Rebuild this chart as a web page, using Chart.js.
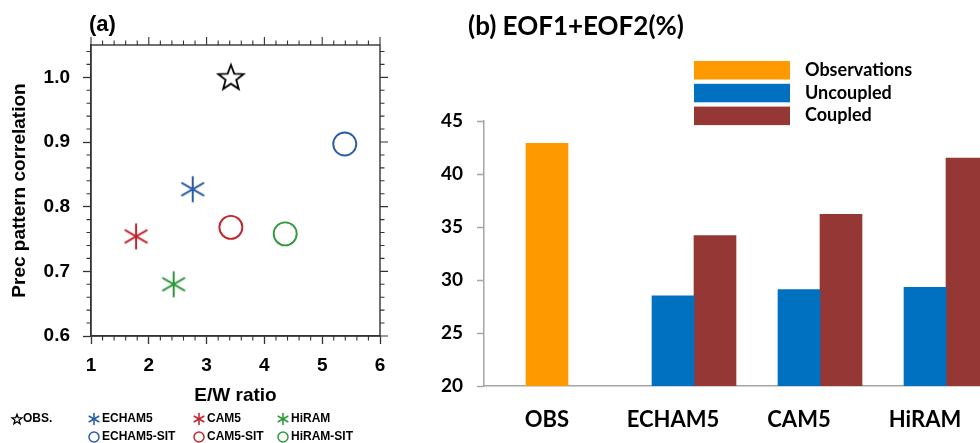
<!DOCTYPE html>
<html>
<head>
<title>E/W ratio vs pattern correlation, EOF1+EOF2</title>
<script src="https://cdn.jsdelivr.net/npm/chart.js"></script>
<style>
  body { margin: 0; background: #fff; overflow: hidden; }
  #wrap { position: relative; width: 980px; height: 443px; overflow: hidden; }
  #panelA { position: absolute; left: 0; top: 0; }
  #panelB { position: absolute; left: 420px; top: 0; }
</style>
</head>
<body>
<div id="wrap">
  <canvas id="panelA" width="415" height="443"></canvas>
  <canvas id="panelB" width="600" height="443"></canvas>
</div>
<script>
// ---- panel (a) data ----
const modelNames = ['OBS.', 'ECHAM5', 'CAM5', 'HiRAM', 'ECHAM5-SIT', 'CAM5-SIT', 'HiRAM-SIT'];
const ewRatio = [3.42, 2.76, 1.78, 2.43, 5.39, 3.42, 4.36];
const patternCorr = [1.0, 0.827, 0.754, 0.680, 0.897, 0.768, 0.758];
const xTicksA = [1, 2, 3, 4, 5, 6];
const yTicksA = [0.6, 0.7, 0.8, 0.9, 1.0];

// ---- panel (b) data ----
const categories = ['OBS', 'ECHAM5', 'CAM5', 'HiRAM'];
const observed = [42.9, null, null, null];
const uncoupled = [null, 28.5, 29.1, 29.3];
const coupled = [null, 34.2, 36.2, 41.5];
const yTicksB = [20, 25, 30, 35, 40, 45];

// styles
const markerKind = ['star', 'asterisk', 'asterisk', 'asterisk', 'circle', 'circle', 'circle'];
const markerColor = ['#000000', '#2a5ca8', '#c1272d', '#2f9a3c', '#2a5ca8', '#c1272d', '#2f9a3c'];
const helv = '"Liberation Sans", Arial, sans-serif';
const cal = 'Lato, "Open Sans", sans-serif';
const frameColor = '#333333';
const axisGray = '#a6a6a6';

function drawStar(ctx, cx, cy, R, color, lw) {
    const r = R * 0.42;
    ctx.beginPath();
    for (let i = 0; i < 10; i++) {
        const rad = i % 2 ? r : R;
        const ang = -Math.PI / 2 + i * Math.PI / 5;
        const px = cx + rad * Math.cos(ang), py = cy + rad * Math.sin(ang);
        if (i === 0) ctx.moveTo(px, py); else ctx.lineTo(px, py);
    }
    ctx.closePath();
    ctx.strokeStyle = color;
    ctx.lineWidth = lw;
    ctx.lineJoin = 'miter';
    ctx.stroke();
}

function drawAsterisk(ctx, cx, cy, R, color, lw) {
    ctx.strokeStyle = color;
    ctx.lineWidth = lw;
    ctx.lineCap = 'round';
    [90, 30, 150].forEach(deg => {
        const a = deg * Math.PI / 180;
        ctx.beginPath();
        ctx.moveTo(cx - R * Math.cos(a), cy - R * Math.sin(a));
        ctx.lineTo(cx + R * Math.cos(a), cy + R * Math.sin(a));
        ctx.stroke();
    });
}

function drawRing(ctx, cx, cy, R, color, lw) {
    ctx.beginPath();
    ctx.arc(cx, cy, R, 0, Math.PI * 2);
    ctx.strokeStyle = color;
    ctx.lineWidth = lw;
    ctx.stroke();
}

function makeMarker(kind, color) {
    const c = document.createElement('canvas');
    c.width = 32; c.height = 32;
    const g = c.getContext('2d');
    if (kind === 'star') drawStar(g, 16, 16.8, 13.3, color, 1.8);
    else drawAsterisk(g, 16, 16, 12.3, color, 2);
    return c;
}

const scatterSets = modelNames.map((name, i) => {
    const ds = {
        label: name,
        data: [{ x: ewRatio[i], y: patternCorr[i] }],
        borderColor: markerColor[i],
        backgroundColor: 'rgba(0,0,0,0)',
        pointBorderWidth: 1.9,
        pointRadius: 11.5,
        showLine: false
    };
    ds.pointStyle = markerKind[i] === 'circle' ? 'circle' : makeMarker(markerKind[i], markerColor[i]);
    return ds;
});

// frame, minor ticks, panel label and legend for (a)
const frameA = {
    id: 'frameA',
    afterDraw(chart) {
        const { ctx, chartArea: a, scales: { x, y } } = chart;
        ctx.save();
        ctx.strokeStyle = frameColor;
        ctx.lineWidth = 1.4;
        ctx.strokeRect(a.left, a.top, a.right - a.left, a.bottom - a.top);
        ctx.lineWidth = 1.1;
        ctx.beginPath();
        for (let i = 0; i <= 25; i++) {
            const px = x.getPixelForValue(1 + i * 0.2);
            const len = i % 5 === 0 ? 8 : 4.5;
            ctx.moveTo(px, a.top); ctx.lineTo(px, a.top - len);
            if (i % 5 !== 0) { ctx.moveTo(px, a.bottom); ctx.lineTo(px, a.bottom + len); }
        }
        for (let i = 0; i <= 22; i++) {
            const py = y.getPixelForValue(0.6 + i * 0.02);
            const len = i % 5 === 0 ? 8 : 4.5;
            ctx.moveTo(a.right, py); ctx.lineTo(a.right + len, py);
            if (i % 5 !== 0) { ctx.moveTo(a.left, py); ctx.lineTo(a.left - len, py); }
        }
        ctx.stroke();

        ctx.fillStyle = '#000';
        ctx.textBaseline = 'middle';
        ctx.font = 'bold 22px ' + helv;
        ctx.fillText('(a)', 89, 25);

        const slots = [[17, 419], [94, 419], [199, 419], [283, 419], [94, 437], [199, 437], [283, 437]];
        ctx.font = 'bold 12px ' + helv;
        chart.data.datasets.forEach((ds, i) => {
            const [mx, my] = slots[i];
            if (markerKind[i] === 'star') drawStar(ctx, mx, my + 0.5, 5.2, markerColor[i], 1.3);
            else if (markerKind[i] === 'asterisk') drawAsterisk(ctx, mx, my, 5.5, markerColor[i], 1.6);
            else drawRing(ctx, mx, my, 5, markerColor[i], 1.5);
            ctx.fillStyle = '#000';
            ctx.fillText(ds.label, mx + (i === 0 ? 6 : 8), my);
        });
        ctx.restore();
    }
};

new Chart(document.getElementById('panelA'), {
    type: 'scatter',
    data: { datasets: scatterSets },
    options: {
        responsive: false,
        animation: false,
        events: [],
        layout: { padding: { left: 0, right: 35, top: 45, bottom: 36 } },
        plugins: { legend: { display: false }, tooltip: { enabled: false } },
        scales: {
            x: {
                type: 'linear', position: 'bottom', min: 1, max: 6,
                afterBuildTicks: s => { s.ticks = xTicksA.map(v => ({ value: v })); },
                afterFit: s => { s.height = 71; },
                grid: { drawOnChartArea: false, tickLength: 8, tickWidth: 1.3, tickColor: frameColor },
                border: { display: true, color: frameColor, width: 1.4 },
                ticks: { padding: 10, color: '#000', font: { family: helv, size: 19, weight: 'bold' }, callback: v => String(v) },
                title: { display: true, text: 'E/W ratio', color: '#000', font: { family: helv, size: 19, weight: 'bold' }, padding: { top: 0, bottom: 0 } }
            },
            y: {
                type: 'linear', position: 'left', min: 0.6, max: 1.05,
                afterBuildTicks: s => { s.ticks = yTicksA.map(v => ({ value: v })); },
                afterFit: s => { s.width = 91; },
                grid: { drawOnChartArea: false, tickLength: 8, tickWidth: 1.3, tickColor: frameColor },
                border: { display: true, color: frameColor, width: 1.4 },
                ticks: { padding: 13, color: '#000', font: { family: helv, size: 19, weight: 'bold' }, callback: v => Number(v).toFixed(1) },
                title: { display: true, text: 'Prec pattern correlation', color: '#000', font: { family: helv, size: 19, weight: 'bold' }, padding: { top: 8, bottom: 0 } }
            }
        }
    },
    plugins: [frameA]
});

// title and legend for (b)
const decoB = {
    id: 'decoB',
    afterDraw(chart) {
        const { ctx } = chart;
        ctx.save();
        ctx.fillStyle = '#000';
        ctx.textBaseline = 'middle';
        ctx.font = 'bold 26px ' + cal;
        ctx.fillText('(b) EOF1+EOF2(%)', 48, 27);
        ctx.font = 'bold 18px ' + cal;
        const shown = chart.data.datasets.filter(ds => ds.label);
        shown.forEach((ds, i) => {
            const top = 61 + i * 22.8;
            ctx.fillStyle = ds.backgroundColor;
            ctx.fillRect(274, top, 96, 18.5);
            ctx.fillStyle = '#000';
            ctx.fillText(ds.label, 385, top + 9);
        });
        ctx.restore();
    }
};

new Chart(document.getElementById('panelB'), {
    type: 'bar',
    data: {
        labels: categories,
        datasets: [
            { label: '', data: categories.map(() => null), stack: 's0', backgroundColor: 'rgba(0,0,0,0)' },
            { label: 'Observations', data: observed, stack: 's1', backgroundColor: '#ff9900' },
            { label: 'Uncoupled', data: uncoupled, stack: 's1', backgroundColor: '#0070c0' },
            { label: 'Coupled', data: coupled, stack: 's2', backgroundColor: '#953735' }
        ]
    },
    options: {
        responsive: false,
        animation: false,
        events: [],
        categoryPercentage: 1,
        barPercentage: 1,
        layout: { padding: { left: 0, right: 32, top: 121, bottom: 0 } },
        plugins: { legend: { display: false }, tooltip: { enabled: false } },
        scales: {
            x: {
                stacked: true,
                afterFit: s => { s.height = 57; },
                grid: { drawOnChartArea: false, drawTicks: false },
                border: { display: true, color: axisGray, width: 1.5 },
                ticks: { padding: 21, color: '#000', font: { family: cal, size: 22, weight: 'bold' } }
            },
            y: {
                stacked: false, min: 20, max: 45,
                afterBuildTicks: s => { s.ticks = yTicksB.map(v => ({ value: v })); },
                afterFit: s => { s.width = 64; },
                grid: { drawOnChartArea: false, tickLength: 7, tickWidth: 1.5, tickColor: axisGray },
                border: { display: true, color: axisGray, width: 1.5 },
                ticks: { padding: 14, color: '#000', font: { family: cal, size: 19, weight: 'bold' } }
            }
        }
    },
    plugins: [decoB]
});
</script>
</body>
</html>
